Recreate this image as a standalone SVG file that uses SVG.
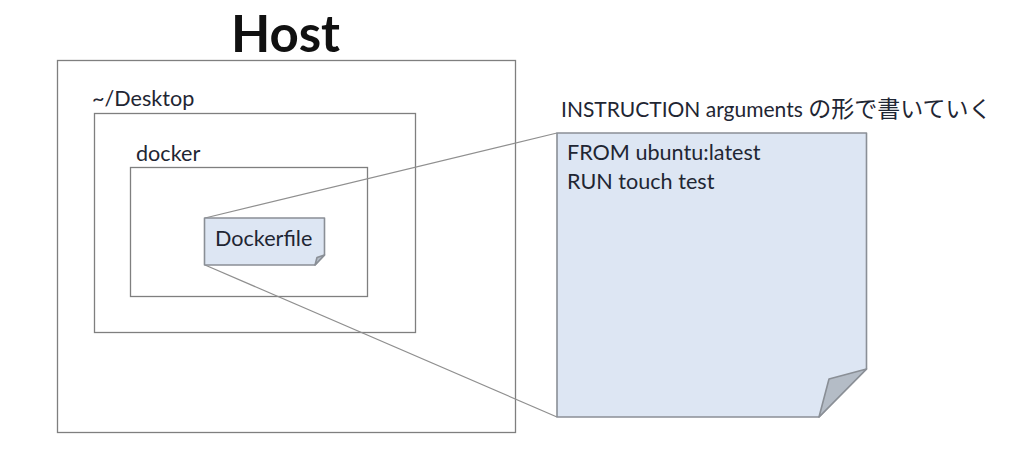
<svg xmlns="http://www.w3.org/2000/svg" width="1033" height="455" viewBox="0 0 1033 455">
<style>
text{font-family:"Lato","Noto Sans CJK JP",sans-serif;fill:#1f2633;font-size:21.600px}
.box{fill:#fff;stroke:#7f7f7f;stroke-width:1.3}
.note{fill:#dde6f3;stroke:#8a8f96;stroke-width:1.6;stroke-linejoin:round}
.fold{fill:#b4bcc6;stroke:#8a8f96;stroke-width:1.6;stroke-linejoin:round}
.conn{fill:none;stroke:#8f8f8f;stroke-width:1.2}
</style>
<rect width="1033" height="455" fill="#fff"/>
<text id="title" x="285.500" y="52" text-anchor="middle" style="fill:#111;font-size:51px;font-weight:700">Host</text>
<g id="host"><rect class="box" x="57.500" y="60.500" width="458" height="372"/></g>
<g id="desktop"><rect class="box" x="94.500" y="113.500" width="321" height="219"/><text x="92" y="106">~/Desktop</text></g>
<g id="docker"><rect class="box" x="130.500" y="167.500" width="237" height="129"/><text x="136" y="161">docker</text></g>
<g id="connectors">
<line class="conn" x1="205" y1="218" x2="557" y2="133"/>
<line class="conn" x1="205" y1="265" x2="557" y2="417"/>
</g>
<g id="dockerfile">
<path class="note" d="M204.500 218H324.500V255L315 265H204.500Z"/>
<path class="fold" d="M315 265L317 257.500L324.500 255Z"/>
<text x="215" y="245.500">Dockerfile</text>
</g>
<g id="detail">
<path class="note" d="M557 133H866.500V369L819 417H557Z"/>
<path class="fold" d="M819 417L829 379L866.500 369Z"/>
<text x="567" y="159.500">FROM ubuntu:latest</text>
<text x="567" y="188.500">RUN touch test</text>
</g>
<text id="caption" x="561" y="117" style="font-size:21px">INSTRUCTION arguments <tspan style="font-size:23px">の形で書いていく</tspan></text>
</svg>
